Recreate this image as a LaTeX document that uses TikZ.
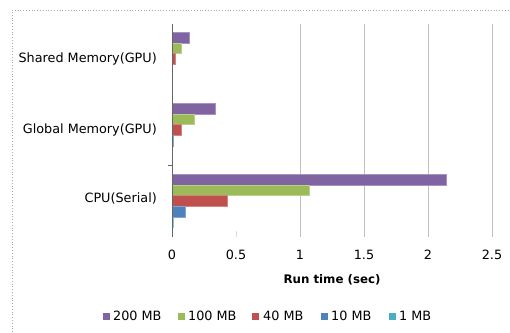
\documentclass[tikz,border=0pt]{standalone}
\usepackage{fontspec}
\setmainfont{DejaVu Sans}
\definecolor{cA}{HTML}{8064A2}
\definecolor{cB}{HTML}{9BBB59}
\definecolor{cC}{HTML}{C0504D}
\definecolor{cD}{HTML}{4F81BD}
\definecolor{cE}{HTML}{4BACC6}
\tikzset{
  lbl/.style={font=\fontsize{12.8}{15}\selectfont, inner sep=0pt},
  grid line/.style={draw=gray!50, line width=0.8pt},
  bar/.style={line width=0.4pt},
  leg/.style={minimum width=7pt, minimum height=7pt, inner sep=0pt},
}
\begin{document}
\begin{tikzpicture}[x=1pt,y=-1pt]
\useasboundingbox (0,0) rectangle (510,332);
% frame
\draw[gray!70, dotted, line width=0.8pt] (12,332) -- (12,10) -- (510,10);
% grid
\foreach \v in {1,1.5,2,2.5} {
  \draw[grid line] ({172+128*\v},24) -- ({172+128*\v},237);
}
\draw[gray!30, line width=0.6pt] (236,231) -- (236,237);
% bars
\foreach \top/\a/\b/\c/\d/\e in {24/0.135/0.068/0.026/0.002/0, 95/0.34/0.17/0.068/0.012/0, 166/2.14/1.07/0.43/0.10/0.012} {
  \fill[cA, draw=cA!70!white, bar] (172,\top+8) rectangle ({172+128*\a},\top+18.7);
  \fill[cB, draw=cB!70!white, bar] (172,\top+18.7) rectangle ({172+128*\b},\top+29.4);
  \fill[cC, draw=cC!70!white, bar] (172,\top+29.4) rectangle ({172+128*\c},\top+40.1);
  \fill[cD, draw=cD!70!white, bar] (172,\top+40.1) rectangle ({172+128*\d},\top+50.8);
  \fill[cE, draw=cE!70!white, bar] (172,\top+50.8) rectangle ({172+128*\e},\top+61.5);
}
% axis
\draw[gray!80!black, line width=0.8pt] (172,24) -- (172,237);
\draw[gray!80!black, line width=0.8pt] (168,165) -- (172,165);
% category labels
\node[lbl, anchor=east] (shared) at (157,59) {Shared Memory(GPU)};
\node[lbl, anchor=east] (global) at (157,130) {Global Memory(GPU)};
\node[lbl, anchor=east] (cpu) at (157,198) {CPU(Serial)};
% tick labels
\foreach \v/\t in {0/0,0.5/0.5,1/1,1.5/1.5,2/2,2.5/2.5} {
  \node[lbl] at ({172+128*\v},255) {\t};
}
\node[lbl, font=\fontsize{11.8}{14}\selectfont\bfseries] (xt) at (332,280) {Run time (sec)};
% legend
\node[leg, fill=cA] (l1) at (106.5,316) {};
\node[lbl, anchor=west] at (113,316) {200 MB};
\node[leg, fill=cB] (l2) at (181,316) {};
\node[lbl, anchor=west] at (188,316) {100 MB};
\node[leg, fill=cC] (l3) at (255.5,316) {};
\node[lbl, anchor=west] at (263,316) {40 MB};
\node[leg, fill=cD] (l4) at (324,316) {};
\node[lbl, anchor=west] at (331,316) {10 MB};
\node[leg, fill=cE] (l5) at (392,316) {};
\node[lbl, anchor=west] at (399,316) {1 MB};
\end{tikzpicture}
\end{document}
